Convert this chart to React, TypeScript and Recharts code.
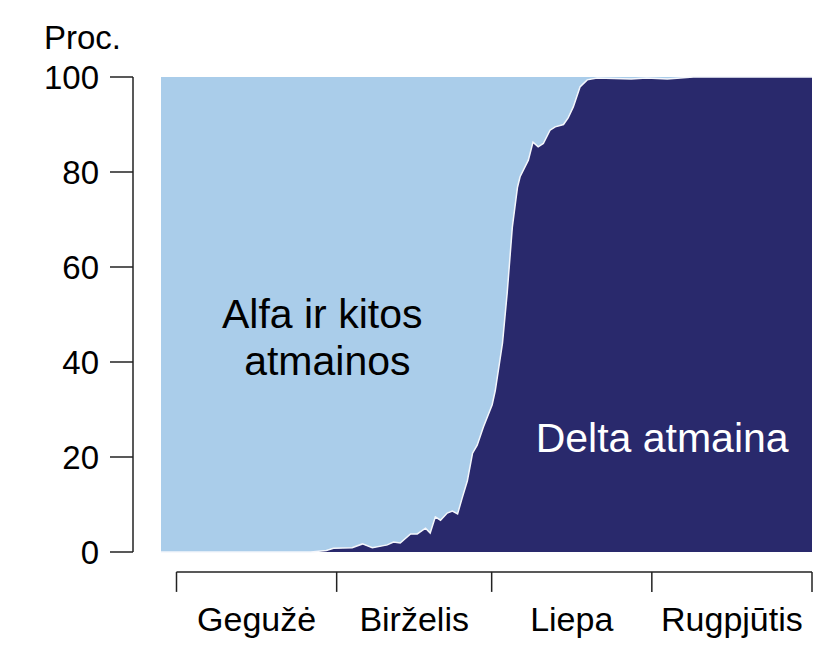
import React from 'react';
import {
  ComposedChart,
  Area,
  Line,
  XAxis,
  YAxis,
  ReferenceLine,
  ReferenceDot
} from 'recharts';

// day 0 = May 1st; the series starts a few days earlier
const days = [
  -3, 26, 29, 30.4, 34, 36, 37.9, 40.8, 42, 43.3, 45.3, 46.6, 48.2, 49.1, 50.1,
  51.1, 52.4, 53.4, 54.4, 55.3, 56.3, 57.3, 58.2, 59.4, 61.1, 61.7, 63.1, 64,
  65, 66, 66.5, 68.1, 69, 70, 71, 72.3, 73.3, 74.9, 75.8, 76.8, 78.1, 79.5,
  81.4, 88, 91, 95, 100, 123
];

// Delta share, percent
const deltaShare = [
  0, 0, 0.3, 0.8, 0.9, 1.7, 0.9, 1.5, 2.1, 1.9, 3.8, 3.8, 5.0, 4.0, 7.4,
  6.7, 8.2, 8.6, 8.0, 11.4, 15.0, 20.8, 22.5, 26.3, 31.0, 34.0, 44.0, 54.5,
  68.4, 76.8, 79.0, 82.5, 86.3, 85.3, 86.0, 88.8, 89.5, 90.0, 91.4, 93.7, 97.9, 99.4,
  99.8, 99.6, 99.8, 99.6, 100, 100
];

const monthNames = ['Gegužė', 'Birželis', 'Liepa', 'Rugpjūtis'];
const monthStarts = [0, 31, 61, 92, 123];
const yTicks = [0, 20, 40, 60, 80, 100];

const data = days.map((d, i) => ({
  day: d,
  delta: deltaShare[i],
  alfa: 100 - deltaShare[i]
}));

const monthMids = monthNames.map((_, i) => (monthStarts[i] + monthStarts[i + 1]) / 2);

const FONT = '"Liberation Sans", Arial, sans-serif';
const AXIS_Y = -4.2; // x axis line sits a bit below 0
const TICK_END = -8.4;

export default function App() {
  return (
    <div style={{ position: 'absolute', left: 0, top: 0, width: 826, height: 646, fontFamily: FONT, background: '#fff' }}>
      <div style={{ position: 'absolute', left: 44, top: 22, fontSize: 33, lineHeight: '32px', color: '#000' }}>
        Proc.
      </div>
      <ComposedChart
        width={826}
        height={646}
        data={data}
        margin={{ top: 77, right: 14, left: 0, bottom: 0 }}
      >
        <XAxis
          dataKey="day"
          type="number"
          domain={[-3, 123]}
          padding={{ left: 28, right: 0 }}
          ticks={monthMids}
          tickFormatter={(v: number) => monthNames[monthMids.indexOf(v)] ?? ''}
          axisLine={false}
          tickLine={false}
          tickSize={0}
          tickMargin={55}
          height={94}
          interval={0}
          tick={{ fontSize: 34, fill: '#000', fontFamily: FONT }}
        />
        <YAxis
          domain={[0, 100]}
          ticks={yTicks}
          width={133}
          tickSize={23}
          tickMargin={11}
          axisLine={{ stroke: '#222', strokeWidth: 1.5 }}
          tickLine={{ stroke: '#222', strokeWidth: 1.5 }}
          tick={{ fontSize: 33, fill: '#000', fontFamily: FONT }}
        />

        <Area
          type="linear"
          dataKey="delta"
          stackId="s"
          fill="#29296c"
          fillOpacity={1}
          stroke="none"
          isAnimationActive={false}
        />
        <Area
          type="linear"
          dataKey="alfa"
          stackId="s"
          fill="#aacdea"
          fillOpacity={1}
          stroke="none"
          isAnimationActive={false}
        />
        <Line
          type="linear"
          dataKey="delta"
          stroke="#f4f6fb"
          strokeWidth={1.5}
          dot={false}
          activeDot={false}
          isAnimationActive={false}
        />

        {/* x axis drawn below the plot, month boundaries as ticks */}
        <ReferenceLine
          segment={[{ x: monthStarts[0], y: AXIS_Y }, { x: monthStarts[4], y: AXIS_Y }]}
          stroke="#222"
          strokeWidth={1.5}
          ifOverflow="visible"
        />
        {monthStarts.map((m) => (
          <ReferenceLine
            key={`m-${m}`}
            segment={[{ x: m, y: AXIS_Y }, { x: m, y: TICK_END }]}
            stroke="#222"
            strokeWidth={1.5}
            ifOverflow="visible"
          />
        ))}

        <ReferenceDot
          x={28.2}
          y={50.3}
          r={0}
          fill="none"
          stroke="none"
          label={{ value: 'Alfa ir kitos', position: 'center', fontSize: 41, fill: '#000', fontFamily: FONT }}
        />
        <ReferenceDot
          x={29.2}
          y={40.4}
          r={0}
          fill="none"
          stroke="none"
          label={{ value: 'atmainos', position: 'center', fontSize: 41, fill: '#000', fontFamily: FONT }}
        />
        <ReferenceDot
          x={94}
          y={24.2}
          r={0}
          fill="none"
          stroke="none"
          label={{ value: 'Delta atmaina', position: 'center', fontSize: 41, fill: '#fff', fontFamily: FONT }}
        />
      </ComposedChart>
    </div>
  );
}
